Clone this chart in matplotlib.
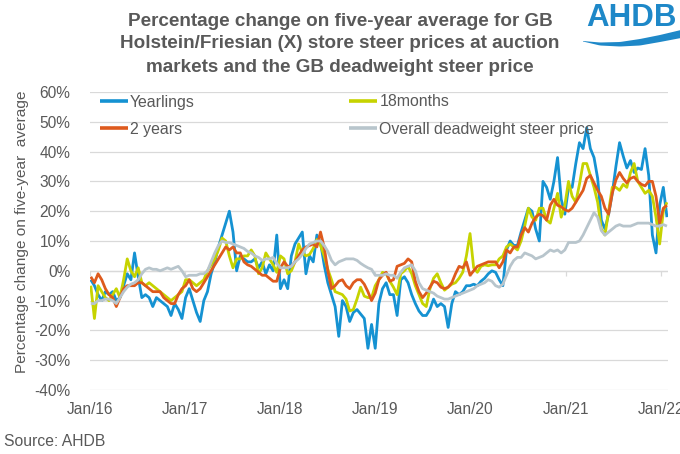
import numpy as np
import pandas as pd
import matplotlib
matplotlib.use('Agg')
import matplotlib.pyplot as plt
from matplotlib.patches import Polygon

plt.rcParams['font.family'] = ['Liberation Sans', 'DejaVu Sans']

# ---------------- data (fortnightly observations, % change on 5-yr average) -------------
dates = pd.date_range('2016-01-04', periods=159, freq='14D')

yearlings = [
    -3, -5, -8, -10, -7, -8, -7, -10, -9, -5,
    -1, -3, 6, -2, -9, -8, -9, -12, -9, -10,
    -11, -12, -15, -11, -13, -16, -9, -6, -10, -14,
    -17, -10, -7, -1, 3, 8, 12, 16, 20, 13,
    0, 5, 4, 3, 3, 4, 1, 3, -1, 2,
    0, 12, -6, -3, -6, 5, 9, 11, 13, -1,
    5, 3, 12, 9.5, 2, -4, -8, -12, -22, -10,
    -12, -17, -14, -13, -14.5, -16, -26, -18, -26, -11,
    -6, -4, -8, -8, -15, -3, -2, -4, -8, -11,
    -13.5, -15, -15, -13, -9.5, -12, -11, -12, -19, -11,
    -7, -8, -7, -5, -5, -4.5, -5, -3.5, -2.5, -1,
    0, -0.5, -3, -5, 7, 10, 8.5, 8.5, 13, 17,
    21, 20, 14, 10, 30, 28, 24, 30, 38, 24,
    19, 28, 28, 36, 43, 41, 48, 41, 38, 31,
    17, 14, 19, 26, 35, 43, 38.5, 34.5, 37, 33,
    34.5, 34, 41, 32, 12, 6, 22, 28, 18,
]

months18 = [
    -5, -16, -5, -7, -9, -10, -8, -6, -9, -3,
    4, 0, -2, 1, -4, -5, -4, -5, -6, -7,
    -8, -9, -10, -9, -8, -7, -3, -3, -4, -5,
    -4, -3, 0, 2, 4, 7, 11, 10, 5, 1,
    4, 4, 5, 5, 7, 5, -1, 1, 6, 4,
    2, -0.5, 5, 4, -1, 0, 3, 9, 6, 5,
    5.5, 7.5, 10.5, 8.5, 5, 0.5, -3, -7, -7.5, -8,
    -9.5, -13.5, -13, -9.5, -5.5, -8.5, -9, -9, -5, -3,
    -0.5, -1, -3.5, -5.5, -8, -1, 0, 1.5, -1, -5,
    -8, -11, -12, -6, -2.5, -1, -4, -6.5, -5.5, -4.5,
    -4, -2.5, -0.5, 5, 12.5, 1, -0.5, 1.5, 2, 1.7,
    2, 2, 4, 5, 8, 9, 8, 7, 10, 15,
    21, 18, 17, 21, 21, 17, 16, 21, 26, 18,
    22, 30, 25, 23, 29, 36, 36, 32, 28, 23,
    14, 12, 20, 28, 28, 27, 29, 28, 33, 36,
    30, 28, 26, 27, 25, 18, 9, 20, 23,
]

years2 = [
    -2, -4, -1, -3, -6, -8, -9, -12, -9, -6,
    -5, -5, -5, -4, -4, -5, -6, -7, -7, -7,
    -9, -10, -11, -11, -8, -6, -5, -3, -6, -7,
    -6, -4, -2, 0, 2, 4, 6, 8, 7, 8,
    6, 6, 3, 2, 1.5, 0.5, -0.5, -1.5, -1.5, -2.5,
    -3.5, -3.5, 1, 3, 1.5, 1.5, 3, 5, 7, 8,
    8.5, 9, 8, 13, 8, 0, -6, -5, -3.5, -3,
    -5, -6, -4, -3, -3, -4.5, -7, -10, -7.5, -3,
    -1.5, -0.5, -3.5, -3, 1.5, 2, 2.5, 4, 3, -3.5,
    -7, -9, -7.5, -5.5, -3.5, -4, -5.5, -6, -5.5, -4,
    -1, 1.5, 1, 3, -1.5, 0, 1.5, 2, 2.5, 3,
    3, 3, 1, 3, 7, 6, 8, 8, 12, 14.5,
    13, 16, 18, 19, 18.5, 17, 22, 24, 22, 21.5,
    20.5, 20, 21, 23, 25, 27, 31, 32, 29.5, 27,
    25, 21, 19, 26, 30.5, 33, 31, 29.5, 31, 31.5,
    30, 29, 28.5, 30, 30, 25, 16, 21, 22,
]

deadweight = [
    -11, -11, -10, -10, -9.5, -9.5, -10, -11, -9, -7,
    -5.5, -4.5, -4, -3, -1, 0.5, 1, 0.5, 0.5, 0,
    0.5, 1, 0.5, 1, 1.5, 0, -2, -1.5, -1.5, -1.5,
    -1, -1, 0, 3, 6, 8.5, 10, 9.5, 9.5, 9,
    8.5, 8, 7.5, 6.5, 6, 5, 4.5, 3.5, 4, 4,
    4.5, 2.5, 1, 1, 1, 1.5, 3, 4, 5.5, 7.5,
    9, 9.5, 10, 10, 8.5, 6.5, 3.5, 2, 3, 3.5,
    4, 4, 4, 3.5, 2.5, 1.7, 1, 0.5, -1.5, -1.5,
    -1.5, -1, -1.5, -1.5, -2.5, -0.5, 1, 1.5, 2, 0,
    -4, -6, -6.5, -7, -7.5, -8.5, -9, -9.5, -9.5, -9,
    -8.5, -8, -7.5, -7, -6.5, -6, -5, -4.5, -4, -3,
    -3.5, -5, -5.5, -4.5, -1.5, 1.5, 3.5, 4.5, 4.5, 6,
    5.5, 5, 4, 4.5, 5, 6, 7, 6.5, 7, 6,
    7, 9.5, 9.5, 9.5, 10, 12, 14.5, 17, 19.5, 18,
    13.5, 12, 13, 14, 15, 15.5, 15, 15, 15, 15.5,
    16, 16, 16, 16, 15.5, 15, 15, 15.5, 15,
]

series_names = ['Yearlings', '18months', '2 years', 'Overall deadweight steer price']
series_colors = ['#1592D2', '#C6D300', '#DE5A1D', '#B8C5CC']
tick_years = ['2016', '2017', '2018', '2019', '2020', '2021', '2022']
tick_labels = ['Jan/16', 'Jan/17', 'Jan/18', 'Jan/19', 'Jan/20', 'Jan/21', 'Jan/22']
y_ticks = [-40, -30, -20, -10, 0, 10, 20, 30, 40, 50, 60]

# ---------------- figure -------------
W, H = 680, 454
TXT = '#595959'
GRID = '#D9D9D9'
FS = 11.2
fig = plt.figure(figsize=(W / 100, H / 100), dpi=100)
ax = fig.add_axes([90 / W, 1 - 390 / H, (668 - 90) / W, (390 - 92) / H])

lines = []
for vals, name, col in zip([yearlings, months18, years2, deadweight], series_names, series_colors):
    ln, = ax.plot(dates, vals, color=col, lw=2.0, label=name,
                  solid_joinstyle='round', solid_capstyle='butt', zorder=3)
    lines.append(ln)

ax.set_ylim(-40, 60)
ax.set_xlim(pd.Timestamp('2016-01-01'), pd.Timestamp('2022-01-28'))
ax.set_yticks(y_ticks)
ax.set_yticklabels([f'{v}%' for v in y_ticks])
tick_dates = [pd.Timestamp(y + '-01-01') for y in tick_years]
ax.set_xticks(tick_dates)
ax.set_xticklabels(tick_labels)
for s in ax.spines.values():
    s.set_visible(False)
ax.grid(axis='y', color=GRID, lw=0.9, zorder=0)
ax.tick_params(axis='both', length=0, colors=TXT, labelsize=FS)
ax.tick_params(axis='y', pad=14)
ax.tick_params(axis='x', pad=9)
# horizontal axis line at 0 with small tick marks
ax.axhline(0, color=GRID, lw=0.9, zorder=1)
ax.vlines(tick_dates, -1.7, 0, color=GRID, lw=0.9, zorder=1)

# legend: 2 columns, row-wise order
leg = fig.legend([lines[0], lines[2], lines[1], lines[3]],
                 [series_names[0], series_names[2], series_names[1], series_names[3]],
                 ncol=2, loc='upper left', bbox_to_anchor=(100 / W, 1 - 94.5 / H),
                 frameon=False, fontsize=11.4, handlelength=1.77, handletextpad=0.13,
                 columnspacing=9.75, labelspacing=0.76, borderpad=0, borderaxespad=0)
for t in leg.get_texts():
    t.set_color(TXT)
for h in leg.legend_handles:
    h.set_linewidth(2.6)

# titles and labels
TS = 13.6
fig.text(340 / W, 1 - 21 / H, 'Percentage change on five-year average for GB',
         ha='center', va='center', fontsize=TS, fontweight='bold', color=TXT)
fig.text(340 / W, 1 - 44 / H, 'Holstein/Friesian (X) store steer prices at auction',
         ha='center', va='center', fontsize=TS, fontweight='bold', color=TXT)
fig.text(340 / W, 1 - 67 / H, 'markets and the GB deadweight steer price',
         ha='center', va='center', fontsize=TS, fontweight='bold', color=TXT)
fig.text(22 / W, 1 - 232 / H, 'Percentage change on five-year  average', rotation=90,
         ha='center', va='center', fontsize=11.1, color=TXT)
fig.text(4 / W, 1 - 441 / H, 'Source: AHDB', ha='left', va='center', fontsize=11.3, color=TXT)

# AHDB logo
LOGO = '#1E88C8'
fig.text(631 / W, 1 - 18 / H, 'AHDB', ha='center', va='center', fontsize=22.5,
         fontweight='bold', color=LOGO)
sx = [583, 600, 620, 640, 660, 681]
s_top = [41, 42.5, 42, 39, 35, 30]
s_bot = [41.5, 45.5, 46.5, 45.5, 42, 38]
xs = np.linspace(583, 681, 50)
top = np.interp(xs, sx, s_top)
bot = np.interp(xs, sx, s_bot)
poly_pts = np.concatenate([np.column_stack([xs, top]), np.column_stack([xs[::-1], bot[::-1]])])
poly_pts[:, 0] /= W
poly_pts[:, 1] = 1 - poly_pts[:, 1] / H
fig.patches.append(Polygon(poly_pts, closed=True, transform=fig.transFigure,
                           facecolor=LOGO, edgecolor='none', joinstyle='round'))

fig.savefig('out.png', dpi=100)
